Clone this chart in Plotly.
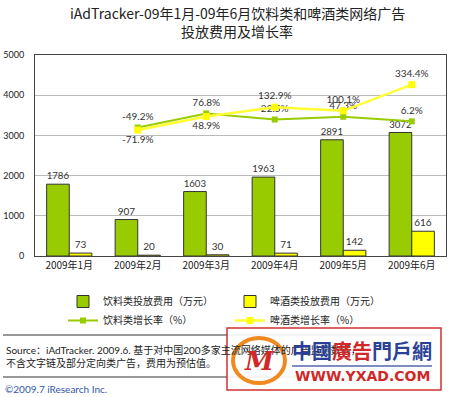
import plotly.graph_objects as go

months = ["2009年1月", "2009年2月", "2009年3月", "2009年4月", "2009年5月", "2009年6月"]
drink_spend = [1786, 907, 1603, 1963, 2891, 3072]
beer_spend = [73, 20, 30, 71, 142, 616]
drink_growth = [None, -49.2, 76.8, 22.5, 47.3, 6.2]
beer_growth = [None, -71.9, 48.9, 132.9, 100.1, 334.4]

y_ticks = [0, 1000, 2000, 3000, 4000, 5000]

FONT = "Lato, 'Noto Sans CJK SC', sans-serif"
CJK = "'Noto Sans CJK SC', Lato, sans-serif"

W, H = 450, 397
L, R, T, B = 35, 446, 55, 256


def px(x):
    return (x - L) / (R - L)


def py(y):
    return (B - y) / (B - T)


def pct(v):
    return "" if v is None else f"{v:.1f}%"


fig = go.Figure()
fig.add_trace(go.Bar(
    x=months, y=drink_spend, name="饮料类投放费用（万元）",
    marker=dict(color="#99CC00", line=dict(color="#333333", width=1)),
    text=[str(v) for v in drink_spend], textposition="outside",
    textfont=dict(size=10, color="#333333", family=FONT), cliponaxis=False,
))
fig.add_trace(go.Bar(
    x=months, y=beer_spend, name="啤酒类投放费用（万元）",
    marker=dict(color="#FFFF00", line=dict(color="#333333", width=1)),
    text=[str(v) for v in beer_spend], textposition="outside",
    textfont=dict(size=10, color="#333333", family=FONT), cliponaxis=False,
))
fig.add_trace(go.Scatter(
    x=months, y=drink_growth, name="饮料类增长率（%）", yaxis="y2",
    mode="lines+markers+text", line=dict(color="#99CC00", width=2),
    marker=dict(symbol="square", size=6, color="#99CC00"),
    text=[pct(v) for v in drink_growth], textposition="top center",
    textfont=dict(size=10, color="#333333", family=FONT), cliponaxis=False,
))
fig.add_trace(go.Scatter(
    x=months, y=beer_growth, name="啤酒类增长率（%）", yaxis="y2",
    mode="lines+markers+text", line=dict(color="#FFFF33", width=2.5),
    marker=dict(symbol="square", size=7, color="#FFFF00"),
    text=[pct(v) for v in beer_growth],
    textposition=["top center", "bottom center", "bottom center", "top center", "top center", "top center"],
    textfont=dict(size=10, color="#333333", family=FONT), cliponaxis=False,
))

shapes = [
    dict(type="line", xref="paper", yref="paper", x0=px(3), x1=px(432), y0=py(335), y1=py(335),
         line=dict(color="#333333", width=1)),
    dict(type="line", xref="paper", yref="paper", x0=px(3), x1=px(432), y0=py(377), y1=py(377),
         line=dict(color="#333333", width=1)),
    # watermark box
    dict(type="rect", xref="paper", yref="paper", x0=px(227), x1=px(441), y0=py(390), y1=py(328),
         line=dict(color="#D03030", width=1.5), fillcolor="rgba(255,255,255,0.9)", layer="above"),
    dict(type="line", xref="paper", yref="paper", x0=px(292), x1=px(432), y0=py(366), y1=py(366),
         line=dict(color="#5566AA", width=1.5), layer="above"),
    dict(type="circle", xref="paper", yref="paper", x0=px(233), x1=px(285), y0=py(383), y1=py(338),
         line=dict(color="#F08A20", width=4), fillcolor="rgba(255,255,255,0)", layer="above"),
]

annotations = [
    dict(text="iAdTracker-09年1月-09年6月饮料类和啤酒类网络广告", x=px(237), y=py(13),
         font=dict(size=14, color="#222222", family=CJK)),
    dict(text="投放费用及增长率", x=px(237), y=py(31),
         font=dict(size=14, color="#222222", family=CJK)),
    dict(text="Source：iAdTracker. 2009.6. 基于对中国200多家主流网络媒体的广告监测数据，", x=px(4), y=py(350),
         xanchor="left", font=dict(size=10, color="#222222", family=FONT)),
    dict(text="不含文字链及部分定向类广告，费用为预估值。", x=px(4), y=py(363),
         xanchor="left", font=dict(size=10, color="#222222", family=FONT)),
    dict(text="©2009.7 iResearch Inc.", x=px(3), y=py(389),
         xanchor="left", font=dict(size=10, color="#3355AA", family=FONT)),
    dict(text="<b><i>M</i></b>", x=px(259), y=py(361),
         font=dict(size=26, color="#D02828", family="DejaVu Serif"), yanchor="middle"),
    dict(text="<b>中國<span style='color:#D02828'>廣告</span>門戶網</b>", x=px(362), y=py(350),
         font=dict(size=20, color="#2A3F95", family=CJK)),
    dict(text="<b>WWW.YXAD.COM</b>", x=px(362), y=py(376),
         font=dict(size=14, color="#D02828", family="DejaVu Sans")),
]
for a in annotations:
    a.setdefault("xref", "paper")
    a.setdefault("yref", "paper")
    a.setdefault("showarrow", False)
    a.setdefault("xanchor", "center")
    a.setdefault("yanchor", "middle")

fig.update_layout(
    width=W, height=H,
    margin=dict(l=L, r=W - R, t=T, b=H - B, autoexpand=False),
    paper_bgcolor="white", plot_bgcolor="white",
    barmode="group", bargap=0.34, bargroupgap=0,
    font=dict(family=FONT, size=10, color="#222222"),
    xaxis=dict(showline=True, linecolor="#444444", linewidth=1, mirror=True,
               ticks="", tickfont=dict(size=10, family=CJK, color="#222222")),
    yaxis=dict(range=[0, 5000], tickvals=y_ticks, showline=True, linecolor="#444444",
               linewidth=1, mirror=True, showgrid=True, gridcolor="#BBBBBB", gridwidth=1,
               zeroline=False, tickfont=dict(size=9, color="#222222"), ticklabelstandoff=8),
    yaxis2=dict(range=[-1200, 600], overlaying="y", side="right", visible=False),
    showlegend=True,
    legend=dict(orientation="h", x=px(63), y=py(287), xanchor="left", yanchor="top",
                entrywidth=122, entrywidthmode="pixels", traceorder="normal",
                font=dict(size=10, family=CJK, color="#222222"), itemwidth=30,
                bgcolor="rgba(0,0,0,0)", tracegroupgap=0),
    shapes=shapes, annotations=annotations,
)

fig.write_html("out.html", config={"displayModeBar": False},
               post_script="document.body.style.margin='0';")
